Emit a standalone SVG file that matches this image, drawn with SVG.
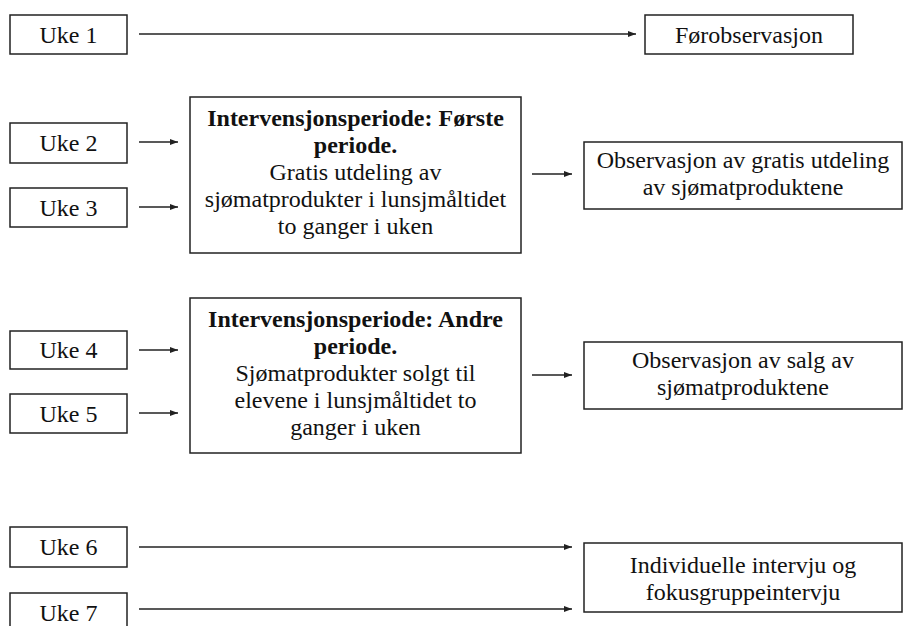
<svg xmlns="http://www.w3.org/2000/svg" width="903" height="626" viewBox="0 0 903 626">
<style>
.box{fill:#fff;stroke:#222;stroke-width:1.5}
.t{font-family:"Liberation Serif","Times New Roman",serif;font-size:24px;fill:#111;text-anchor:middle}
.b{font-weight:bold}
.c{stroke:#222;stroke-width:1.4;fill:none;marker-end:url(#ah)}
</style>
<defs>
<marker id="ah" markerWidth="8" markerHeight="6" refX="8" refY="3" orient="auto" markerUnits="userSpaceOnUse">
<path d="M0,0 L8,3 L0,6 Z" fill="#222"/>
</marker>
</defs>
<rect width="903" height="626" fill="#fff"/>
<g id="connectors">
<line class="c" x1="139" y1="34" x2="636" y2="34"/>
<line class="c" x1="139" y1="142" x2="178" y2="142"/>
<line class="c" x1="139" y1="207" x2="178" y2="207"/>
<line class="c" x1="532" y1="174" x2="572" y2="174"/>
<line class="c" x1="139" y1="350" x2="178" y2="350"/>
<line class="c" x1="139" y1="413" x2="178" y2="413"/>
<line class="c" x1="532" y1="375" x2="572" y2="375"/>
<line class="c" x1="139" y1="547" x2="572" y2="547"/>
<line class="c" x1="139" y1="609" x2="572" y2="609"/>
</g>
<g id="uke1"><rect class="box" x="10" y="15" width="117" height="39"/><text class="t" x="68.5" y="43">Uke 1</text></g>
<g id="forobs"><rect class="box" x="645" y="15" width="208" height="39"/><text class="t" x="749" y="43">Førobservasjon</text></g>
<g id="uke2"><rect class="box" x="10" y="123" width="117" height="40"/><text class="t" x="68.5" y="151">Uke 2</text></g>
<g id="uke3"><rect class="box" x="10" y="188" width="117" height="39"/><text class="t" x="68.5" y="216">Uke 3</text></g>
<g id="periode1"><rect class="box" x="190" y="97" width="331" height="156"/>
<text class="t b" x="355.5" y="126">Intervensjonsperiode: Første</text>
<text class="t b" x="355.5" y="153">periode.</text>
<text class="t" x="355.5" y="180">Gratis utdeling av</text>
<text class="t" x="355.5" y="207">sjømatprodukter i lunsjmåltidet</text>
<text class="t" x="355.5" y="234">to ganger i uken</text></g>
<g id="obs1"><rect class="box" x="584" y="142" width="318" height="67"/>
<text class="t" x="743" y="168">Observasjon av gratis utdeling</text>
<text class="t" x="743" y="195">av sjømatproduktene</text></g>
<g id="uke4"><rect class="box" x="10" y="331" width="117" height="38"/><text class="t" x="68.5" y="358">Uke 4</text></g>
<g id="uke5"><rect class="box" x="10" y="394" width="117" height="39"/><text class="t" x="68.5" y="422">Uke 5</text></g>
<g id="periode2"><rect class="box" x="190" y="298" width="331" height="155"/>
<text class="t b" x="355.5" y="327">Intervensjonsperiode: Andre</text>
<text class="t b" x="355.5" y="354">periode.</text>
<text class="t" x="355.5" y="381">Sjømatprodukter solgt til</text>
<text class="t" x="355.5" y="408">elevene i lunsjmåltidet to</text>
<text class="t" x="355.5" y="435">ganger i uken</text></g>
<g id="obs2"><rect class="box" x="584" y="342" width="318" height="67"/>
<text class="t" x="743" y="368">Observasjon av salg av</text>
<text class="t" x="743" y="395">sjømatproduktene</text></g>
<g id="uke6"><rect class="box" x="10" y="527" width="117" height="40"/><text class="t" x="68.5" y="555">Uke 6</text></g>
<g id="uke7"><rect class="box" x="10" y="593" width="117" height="40"/><text class="t" x="68.5" y="621">Uke 7</text></g>
<g id="intervju"><rect class="box" x="584" y="543" width="318" height="69"/>
<text class="t" x="743" y="573">Individuelle intervju og</text>
<text class="t" x="743" y="600">fokusgruppeintervju</text></g>
</svg>
